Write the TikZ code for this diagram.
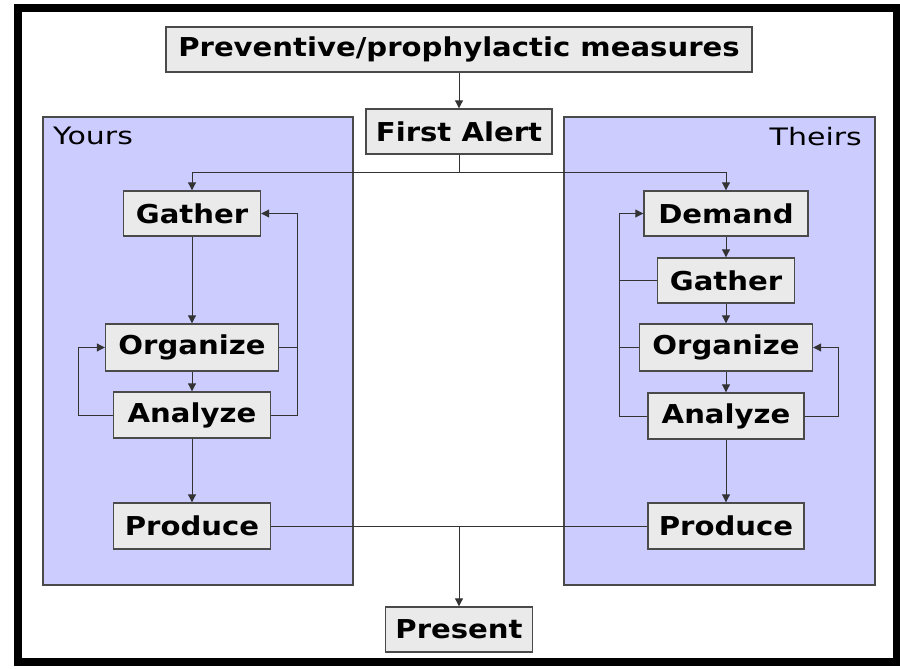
\documentclass[tikz,border=0pt]{standalone}
\usepackage{fontspec}
\usepackage{xcolor}
\usepackage{tikz}
\usetikzlibrary{arrows.meta}
\newfontfamily\boxfont[FakeStretch=1.12]{DejaVu Sans}
\newfontfamily\panelfont[FakeStretch=1.25]{DejaVu Sans}
\definecolor{lavender}{HTML}{CCCCFF}
\definecolor{boxgray}{HTML}{EAEAEA}
\definecolor{edgegray}{HTML}{4A4A4A}
\definecolor{linegray}{HTML}{333333}
\tikzset{
    stage/.style={draw=edgegray, line width=1.4pt, fill=boxgray, inner sep=0pt, minimum height=45pt,
      font=\boxfont\bfseries\fontsize{26}{30}\selectfont},
    panel/.style={draw=edgegray, line width=1.4pt, fill=lavender},
    tag/.style={inner sep=0pt, font=\panelfont\fontsize{24}{28}\selectfont},
    arr/.style={draw=linegray, line width=1pt, -{Triangle[length=8pt,width=8pt]}},
    link/.style={draw=linegray, line width=1pt}}

\begin{document}
\begin{tikzpicture}[x=1pt,y=-1pt]
\useasboundingbox (0,0) rectangle (900,669);
\draw[line width=8pt, fill=white] (18,8) rectangle (897,662);
\draw[panel] (43,117) rectangle (353,585);
\draw[panel] (564,117) rectangle (875,585);
\node[tag, anchor=north west] (yours) at (53,127) {Yours};
\node[tag, anchor=north east] (theirs) at (862,127) {Theirs};

\node[stage, minimum width=586pt] (prev) at (459,49.5) {Preventive/prophylactic measures};
\node[stage, minimum width=186pt] (alert) at (459,131.5) {First Alert};
\node[stage, minimum width=137pt] (yGather) at (192,213.5) {Gather};
\node[stage, minimum width=173pt, minimum height=47pt] (yOrg) at (192,347.5) {Organize};
\node[stage, minimum width=157pt, minimum height=46pt] (yAna) at (192,415) {Analyze};
\node[stage, minimum width=157pt, minimum height=46pt] (yProd) at (192,526) {Produce};
\node[stage, minimum width=164pt] (tDem) at (726,213.5) {Demand};
\node[stage, minimum width=137pt] (tGath) at (726,280.5) {Gather};
\node[stage, minimum width=173pt, minimum height=47pt] (tOrg) at (726,347.5) {Organize};
\node[stage, minimum width=156pt, minimum height=46pt] (tAna) at (726,416) {Analyze};
\node[stage, minimum width=156pt, minimum height=46pt] (tProd) at (726,526) {Produce};
\node[stage, minimum width=147pt] (present) at (459,629.5) {Present};

\coordinate (split) at (459,172);
\coordinate (merge) at (459,526);
\coordinate (yLoopR) at (297,213.5);
\coordinate (yLoopL) at (78,347.5);
\coordinate (tLoopL) at (619,213.5);
\coordinate (tLoopR) at (838,347.5);

\draw[arr] (prev) -- (alert);
\draw[link] (alert) -- (split);
\draw[arr] (split) -| (yGather);
\draw[arr] (split) -| (tDem);

\draw[arr] (yGather) -- (yOrg);
\draw[arr] (yOrg) -- (yAna);
\draw[arr] (yAna) -- (yProd);
\draw[link] (yOrg) -- (yOrg -| yLoopR);
\draw[arr] (yAna) -| (yLoopR) -- (yGather);
\draw[arr] (yAna) -| (yLoopL) -- (yOrg);

\draw[arr] (tDem) -- (tGath);
\draw[arr] (tGath) -- (tOrg);
\draw[arr] (tOrg) -- (tAna);
\draw[arr] (tAna) -- (tProd);
\draw[link] (tGath) -- (tGath -| tLoopL);
\draw[link] (tOrg) -- (tOrg -| tLoopL);
\draw[arr] (tAna) -| (tLoopL) -- (tDem);
\draw[arr] (tAna) -| (tLoopR) -- (tOrg);

\draw[link] (yProd) -- (tProd);
\draw[arr] (merge) -- (present);
\end{tikzpicture}
\end{document}
